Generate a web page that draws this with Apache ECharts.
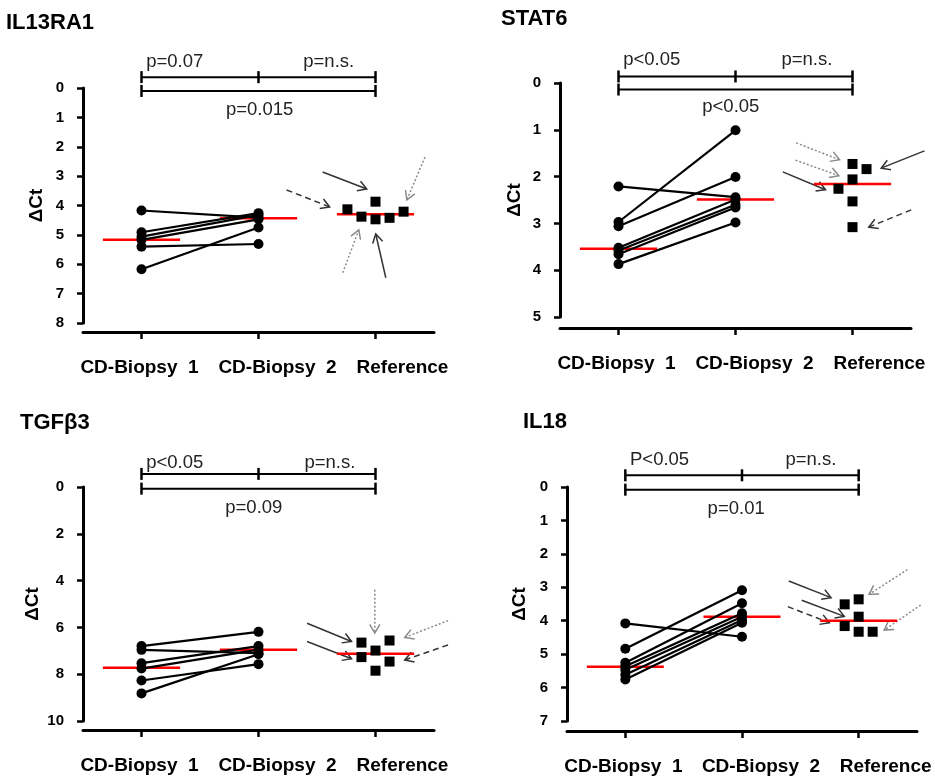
<!DOCTYPE html>
<html><head><meta charset="utf-8">
<script src="https://cdn.jsdelivr.net/npm/echarts@6/dist/echarts.min.js"></script>
<style>html,body{margin:0;padding:0;background:#fff}#c{width:935px;height:783px}</style>
</head><body><div id="c"></div>
<script>
// ---------- DATA ----------
const categories = ['CD-Biopsy  1', 'CD-Biopsy  2', 'Reference'];
const panelTitles = ['IL13RA1', 'STAT6', 'TGFβ3', 'IL18'];
const yAxisName = 'ΔCt';

// IL13RA1
const il13ra1Biopsy1 = [4.17, 4.91, 5.06, 5.17, 5.40, 6.17];
const il13ra1Biopsy2 = [4.41, 4.26, 4.32, 4.47, 5.31, 4.75];
const il13ra1Reference = [4.13, 4.38, 3.87, 4.47, 4.42, 4.21];
const il13ra1RefJitter = [-0.24, -0.12, 0, 0, 0.12, 0.24];
const il13ra1Means = [5.17, 4.43, 4.30];
const il13ra1PLabels = [['p=0.07', 0.04, -0.88, 'left'], ['p=n.s.', 1.60, -0.88, 'center'], ['p=0.015', 1.01, 0.75, 'center']];
const il13ra1Brackets = [-0.37, 0.10];
const il13ra1Arrows = [
  ['solid', 1.548, 2.86, 1.925, 3.44],
  ['dashed', 1.240, 3.47, 1.608, 4.05],
  ['dotted', 2.423, 2.35, 2.268, 3.81],
  ['dotted', 1.720, 6.29, 1.857, 4.83],
  ['solid', 2.088, 6.46, 2.002, 4.97]
];

// STAT6
const stat6Biopsy1 = [2.21, 2.97, 3.06, 3.52, 3.58, 3.66, 3.87];
const stat6Biopsy2 = [2.44, 1.01, 2.01, 2.49, 2.60, 2.66, 2.98];
const stat6Reference = [1.73, 1.84, 2.06, 2.26, 2.53, 3.08];
const stat6RefJitter = [0, 0.12, 0, -0.12, 0, 0];
const stat6Means = [3.54, 2.49, 2.16];
const stat6PLabels = [['p<0.05', 0.04, -0.49, 'left'], ['p=n.s.', 1.61, -0.49, 'center'], ['p<0.05', 0.96, 0.52, 'center']];
const stat6Brackets = [-0.14, 0.14];
const stat6Arrows = [
  ['dotted', 1.519, 1.28, 1.889, 1.64],
  ['dotted', 1.513, 1.65, 1.883, 1.98],
  ['solid', 1.404, 1.90, 1.769, 2.28],
  ['solid', 2.615, 1.45, 2.245, 1.82],
  ['dashed', 2.502, 2.71, 2.139, 3.08]
];

// TGFb3
const tgfb3Biopsy1 = [6.80, 6.96, 7.53, 7.76, 8.27, 8.82];
const tgfb3Biopsy2 = [6.19, 7.10, 6.80, 6.95, 7.57, 7.15];
const tgfb3Reference = [6.65, 6.56, 6.99, 7.27, 7.46, 7.85];
const tgfb3RefJitter = [-0.12, 0.12, 0, -0.12, 0.12, 0];
const tgfb3Means = [7.72, 6.96, 7.13];
const tgfb3PLabels = [['p<0.05', 0.04, -1.05, 'left'], ['p=n.s.', 1.61, -1.05, 'center'], ['p=0.09', 0.96, 0.90, 'center']];
const tgfb3Brackets = [-0.56, 0.07];
const tgfb3Arrows = [
  ['solid', 1.415, 5.82, 1.795, 6.60],
  ['solid', 1.415, 6.60, 1.795, 7.34],
  ['dotted', 1.994, 4.39, 1.994, 6.24],
  ['dotted', 2.620, 5.71, 2.250, 6.43],
  ['dashed', 2.620, 6.75, 2.250, 7.39]
];

// IL18
const il18Biopsy1 = [4.08, 4.84, 5.26, 5.36, 5.47, 5.62, 5.76];
const il18Biopsy2 = [4.48, 3.09, 3.48, 3.78, 3.88, 3.98, 4.06];
const il18Reference = [3.51, 3.36, 3.88, 4.16, 4.33, 4.33];
const il18RefJitter = [-0.12, 0, 0, -0.12, 0, 0.12];
const il18Means = [5.38, 3.88, 4.00];
const il18PLabels = [['P<0.05', 0.04, -0.80, 'left'], ['p=n.s.', 1.59, -0.80, 'center'], ['p=0.01', 0.95, 0.65, 'center']];
const il18Brackets = [-0.35, 0.08];
const il18Arrows = [
  ['solid', 1.401, 2.81, 1.763, 3.31],
  ['solid', 1.512, 3.39, 1.877, 3.87],
  ['dashed', 1.393, 3.58, 1.749, 4.06],
  ['dotted', 2.418, 2.47, 2.090, 3.21],
  ['dotted', 2.532, 3.53, 2.219, 4.28]
];

// Y axis ranges: [max, interval]
const yRanges = [[8, 1], [5, 1], [10, 2], [7, 1]];

// ---------- LAYOUT ----------
const FONT = "'Liberation Sans', Arial, Helvetica, sans-serif";
const layouts = [
  { left: 83, top: 88, width: 351, height: 235, offset: 9, nameGap: 37, tx: 6, ty: 12 },
  { left: 560, top: 83, width: 351, height: 234, offset: 11, nameGap: 36, tx: 501, ty: 8 },
  { left: 83, top: 487, width: 351, height: 234, offset: 9, nameGap: 41, tx: 20, ty: 412 },
  { left: 567, top: 487, width: 350, height: 234, offset: 10, nameGap: 38, tx: 523, ty: 411 }
];

const panels = [
  { b1: il13ra1Biopsy1, b2: il13ra1Biopsy2, ref: il13ra1Reference, jit: il13ra1RefJitter, means: il13ra1Means, p: il13ra1PLabels, br: il13ra1Brackets, ar: il13ra1Arrows },
  { b1: stat6Biopsy1, b2: stat6Biopsy2, ref: stat6Reference, jit: stat6RefJitter, means: stat6Means, p: stat6PLabels, br: stat6Brackets, ar: stat6Arrows },
  { b1: tgfb3Biopsy1, b2: tgfb3Biopsy2, ref: tgfb3Reference, jit: tgfb3RefJitter, means: tgfb3Means, p: tgfb3PLabels, br: tgfb3Brackets, ar: tgfb3Arrows },
  { b1: il18Biopsy1, b2: il18Biopsy2, ref: il18Reference, jit: il18RefJitter, means: il18Means, p: il18PLabels, br: il18Brackets, ar: il18Arrows }
];

const labelShift = [[0, 4, 0, 0], [0, 0, 0, 38], [0, 0, 0, 54]];
const richBase = { fontSize: 19, fontWeight: 'bold', fontFamily: FONT, color: '#000' };

const grid = [], xAxis = [], yAxis = [], title = [], series = [];
layouts.forEach((L, g) => {
  grid.push({ left: L.left, top: L.top, width: L.width, height: L.height, containLabel: false });
  title.push({ text: panelTitles[g], left: L.tx, top: L.ty, padding: 0,
    textStyle: { fontSize: 22, fontWeight: 'bold', fontFamily: FONT, color: '#000' } });
  xAxis.push({
    type: 'category', gridIndex: g, data: categories, boundaryGap: true, offset: L.offset, position: 'bottom',
    axisLine: { show: true, onZero: false, lineStyle: { color: '#000', width: 3 } },
    axisTick: { show: true, alignWithLabel: true, length: 7, lineStyle: { color: '#000', width: 2.5 } },
    axisLabel: {
      show: true, interval: 0, margin: 26,
      formatter: (v, i) => `{c${i}|${v}}`,
      rich: {
        c0: Object.assign({ padding: labelShift[0] }, richBase),
        c1: Object.assign({ padding: labelShift[1] }, richBase),
        c2: Object.assign({ padding: labelShift[2] }, richBase)
      }
    },
    splitLine: { show: false }
  });
  xAxis.push({ type: 'value', gridIndex: g, min: -0.5, max: 2.5, show: false,
    axisLine: { onZero: false } });
  yAxis.push({
    type: 'value', gridIndex: g, inverse: true, min: 0, max: yRanges[g][0], interval: yRanges[g][1],
    position: 'left',
    name: yAxisName, nameLocation: 'middle', nameRotate: 90, nameGap: L.nameGap,
    nameTextStyle: { fontSize: 19, fontWeight: 'bold', fontFamily: FONT, color: '#000' },
    axisLine: { show: true, onZero: false, lineStyle: { color: '#000', width: 3 } },
    axisTick: { show: true, length: 6, lineStyle: { color: '#000', width: 2.5 } },
    axisLabel: { show: true, margin: 19, fontSize: 15, fontWeight: 'bold', fontFamily: FONT, color: '#000' },
    splitLine: { show: false }
  });

  const P = panels[g];
  const xi = 2 * g + 1;
  // mean lines
  P.means.forEach((m, k) => {
    series.push({ type: 'line', xAxisIndex: xi, yAxisIndex: g, data: [[k - 0.33, m], [k + 0.33, m]],
      symbol: 'none', lineStyle: { color: '#ff0000', width: 2.5, opacity: 1 }, z: 2, silent: true, animation: false });
  });
  // paired patient lines
  P.b1.forEach((v, i) => {
    series.push({ type: 'line', xAxisIndex: xi, yAxisIndex: g, data: [[0, v], [1, P.b2[i]]],
      symbol: 'circle', symbolSize: 10, itemStyle: { color: '#000', opacity: 1, borderWidth: 0 },
      lineStyle: { color: '#000', width: 2.2, opacity: 1 }, z: 3, silent: true, animation: false });
  });
  // reference squares
  series.push({ type: 'scatter', xAxisIndex: xi, yAxisIndex: g,
    data: P.ref.map((v, i) => [2 + P.jit[i], v]),
    symbol: 'rect', symbolSize: 10, itemStyle: { color: '#000', opacity: 1 }, z: 3, silent: true, animation: false });
});

const chart = echarts.init(document.getElementById('c'));
chart.setOption({ animation: false, backgroundColor: '#fff', title, grid, xAxis, yAxis, series });

// ---------- ANNOTATIONS (brackets, p-values, arrows) ----------
function px(g, x, y) { return chart.convertToPixel({ xAxisIndex: 2 * g + 1, yAxisIndex: g }, [x, y]); }
function seg(x1, y1, x2, y2, stroke, w, dash) {
  return { type: 'line', silent: true, shape: { x1, y1, x2, y2 },
    style: { stroke, lineWidth: w, lineDash: dash || null } };
}
const arrowStyles = {
  solid: { color: '#333', dash: null },
  dashed: { color: '#333', dash: [6, 4] },
  dotted: { color: '#8a8a8a', dash: [2, 2] }
};
const graphics = [];
panels.forEach((P, g) => {
  const [yt, yl] = P.br;
  const a = px(g, 0, yt), b = px(g, 1, yt), c = px(g, 2, yt);
  graphics.push(seg(a[0], a[1], c[0], c[1], '#000', 2));
  [a, b, c].forEach(q => graphics.push(seg(q[0], q[1] - 6, q[0], q[1] + 6, '#000', 2.5)));
  const d = px(g, 0, yl), e = px(g, 2, yl);
  graphics.push(seg(d[0], d[1], e[0], e[1], '#000', 2));
  [d, e].forEach(q => graphics.push(seg(q[0], q[1] - 6, q[0], q[1] + 6, '#000', 2.5)));
  P.p.forEach(([t, x, y, al]) => {
    const q = px(g, x, y);
    graphics.push({ type: 'text', silent: true, x: q[0], y: q[1],
      style: { text: t, fill: '#222', fontSize: 18.5, fontFamily: FONT,
        align: al, verticalAlign: 'middle', textAlign: al, textVerticalAlign: 'middle' } });
  });
  P.ar.forEach(([st, x1, y1, x2, y2]) => {
    const s = arrowStyles[st];
    const p1 = px(g, x1, y1), p2 = px(g, x2, y2);
    graphics.push(seg(p1[0], p1[1], p2[0], p2[1], s.color, 1.5, s.dash));
    const ang = Math.atan2(p2[1] - p1[1], p2[0] - p1[0]);
    const hl = 10, ha = Math.PI * 0.83;
    const h1 = [p2[0] + hl * Math.cos(ang + ha), p2[1] + hl * Math.sin(ang + ha)];
    const h2 = [p2[0] + hl * Math.cos(ang - ha), p2[1] + hl * Math.sin(ang - ha)];
    graphics.push({ type: 'polyline', silent: true, shape: { points: [h1, p2, h2] },
      style: { stroke: s.color, lineWidth: 1.5, fill: null } });
  });
});
chart.setOption({ graphic: graphics });
</script>
</body></html>
